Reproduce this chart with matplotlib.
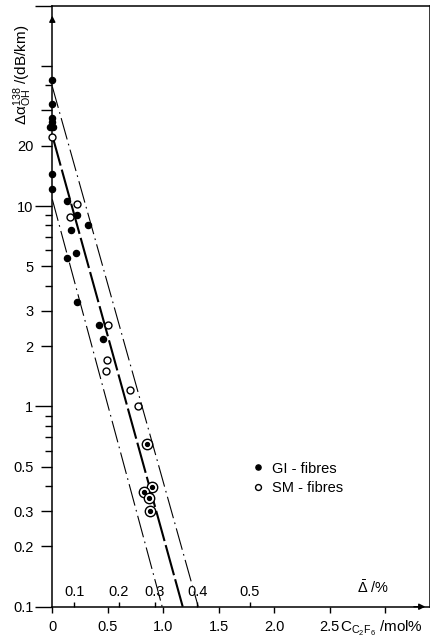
import matplotlib
matplotlib.use("Agg")
import matplotlib.pyplot as plt
from matplotlib.ticker import FixedLocator, FixedFormatter, NullLocator

plt.rcParams['font.family'] = ['Liberation Sans', 'DejaVu Sans']
plt.rcParams['mathtext.fontset'] = 'custom'
plt.rcParams['mathtext.rm'] = 'Liberation Sans'
plt.rcParams['mathtext.it'] = 'Liberation Sans:italic'

# GI fibres (filled dots): C2F6 concentration (mol%) vs. OH excess loss at 1.38 um (dB/km)
gi_x = [0, 0, 0, 0, -0.02, 0.01, 0, 0, 0.13, 0.22, 0.32, 0.17, 0.21, 0.13, 0.22, 0.42, 0.46]
gi_y = [42.6, 32.3, 27.5, 26.3, 24.7, 24.7, 14.4, 12.2, 10.6, 9.0, 8.05, 7.6, 5.8, 5.5, 3.32, 2.55, 2.17]

# SM fibres (open circles)
sm_x = [0, 0.22, 0.16, 0.50, 0.49, 0.48, 0.70, 0.77]
sm_y = [22.1, 10.2, 8.8, 2.55, 1.70, 1.50, 1.21, 1.00]

# points measured on both fibre types (dot inside circle)
both_x = [0.855, 0.90, 0.83, 0.87, 0.88]
both_y = [0.649, 0.396, 0.374, 0.349, 0.30]

# fitted trend and its scatter band
fit_x = [0, 1.175]
fit_y = [22.5, 0.1]
low_x = [0, 0.99]
low_y = [10.8, 0.1]
high_x = [0, 1.315]
high_y = [39.5, 0.1]

# index difference scale along the concentration axis
delta_pos = [0.198, 0.60, 0.925, 1.306, 1.78]
delta_labels = ['0.1', '0.2', '0.3', '0.4', '0.5']

conc_ticks = [0, 0.5, 1.0, 1.5, 2.0, 2.5, 3.0]
conc_labels = ['0', '0.5', '1.0', '1.5', '2.0', '2.5', '']

decade_ticks = [0.1, 1, 10, 100]
decade_labels = ['0.1', '1', '10', '']
mid_ticks = [0.2, 0.3, 0.5, 2, 3, 5, 20, 30, 50]
mid_labels = ['0.2', '0.3', '0.5', '2', '3', '5', '20', '', '']
short_ticks = [0.4, 0.6, 0.7, 0.8, 0.9, 4, 6, 7, 8, 9, 40]

fs = 10.5
fig = plt.figure(figsize=(4.31, 6.43), dpi=100)
ax = fig.add_axes([0.12135, 0.05645, 0.8763, 0.93468])
ax.set_yscale('log')
ax.set_xlim(0, 3.403)
ax.set_ylim(0.1, 100)

for s in ax.spines.values():
    s.set_linewidth(1.1)

ax.yaxis.set_major_locator(FixedLocator(decade_ticks))
ax.yaxis.set_major_formatter(FixedFormatter(decade_labels))
ax.yaxis.set_minor_locator(FixedLocator(mid_ticks))
ax.yaxis.set_minor_formatter(FixedFormatter(mid_labels))
ax.tick_params(axis='y', which='major', direction='out', length=12.2, width=1.0, pad=1.5, labelsize=fs)
ax.tick_params(axis='y', which='minor', direction='out', length=7.9, width=1.0, pad=5.8, labelsize=fs)

ax.set_xticks(conc_ticks, labels=conc_labels)
ax.xaxis.set_minor_locator(NullLocator())
ax.tick_params(axis='x', direction='out', length=4.5, width=1.0, pad=5, labelsize=fs)

# short ticks for the remaining log subdivisions
sec = ax.secondary_yaxis('left', functions=(lambda v: v, lambda v: v))
sec.yaxis.set_major_locator(FixedLocator(short_ticks))
sec.yaxis.set_minor_locator(NullLocator())
sec.tick_params(axis='y', direction='out', length=5, width=1.0, labelleft=False)
sec.spines['left'].set_visible(False)

# delta scale drawn on top of the x axis line
ax2 = ax.twiny()
ax2.set_xlim(ax.get_xlim())
ax2.spines['top'].set_position(('axes', 0.0))
for s in ax2.spines.values():
    s.set_visible(False)
ax2.set_xticks(delta_pos, labels=delta_labels)
ax2.xaxis.set_minor_locator(NullLocator())
ax2.tick_params(axis='x', direction='out', length=3.6, width=1.0, pad=2, labelsize=fs)

# trend lines
ax.plot(fit_x, fit_y, color='k', lw=1.5, dashes=(15, 2))
ax.plot(low_x, low_y, color='k', lw=0.8, dashes=(20, 4, 1.5, 4))
ax.plot(high_x, high_y, color='k', lw=0.8, dashes=(20, 4, 1.5, 4))

gi, = ax.plot(gi_x, gi_y, 'o', color='k', ms=4.4, clip_on=False, zorder=4)
sm, = ax.plot(sm_x, sm_y, 'o', mfc='white', mec='k', mew=1.0, ms=5.0, clip_on=False, zorder=4)
ax.plot(both_x, both_y, 'o', mfc='white', mec='k', mew=1.0, ms=7.5, zorder=4)
ax.plot(both_x, both_y, 'o', color='k', ms=2.8, zorder=5)

ax.legend([gi, sm], ['GI - fibres', 'SM - fibres'], loc='center left',
          bbox_to_anchor=(0.525, 0.214), frameon=False, fontsize=fs,
          borderpad=0, borderaxespad=0, handlelength=1.0, handletextpad=0.45,
          labelspacing=0.35, markerscale=0.85)

# axis arrows
ax.annotate('', xy=(0, 0.988), xytext=(0, 0.968), xycoords='axes fraction',
            arrowprops=dict(arrowstyle='-|>', color='k', lw=1.0, mutation_scale=9))
ax.annotate('', xy=(0.995, 0), xytext=(0.95, 0), xycoords='axes fraction',
            arrowprops=dict(arrowstyle='-|>', color='k', lw=1.0, mutation_scale=9))

# axis titles
ax.text(-0.0776, 0.885, r'$\Delta\mathrm{\alpha}_{\mathrm{OH}}^{138}$ /(dB/km)', transform=ax.transAxes,
        rotation=90, ha='center', va='center', fontsize=11)
ax.text(0.762, -0.042, r'$\mathrm{C_{C_2F_6}}$ /mol%', transform=ax.transAxes,
        ha='left', va='baseline', fontsize=11)
ax.text(0.807, 0.0228, r'$\bar{\Delta}$ /%', transform=ax.transAxes,
        ha='left', va='baseline', fontsize=fs)

fig.savefig('out.png', dpi=100)
